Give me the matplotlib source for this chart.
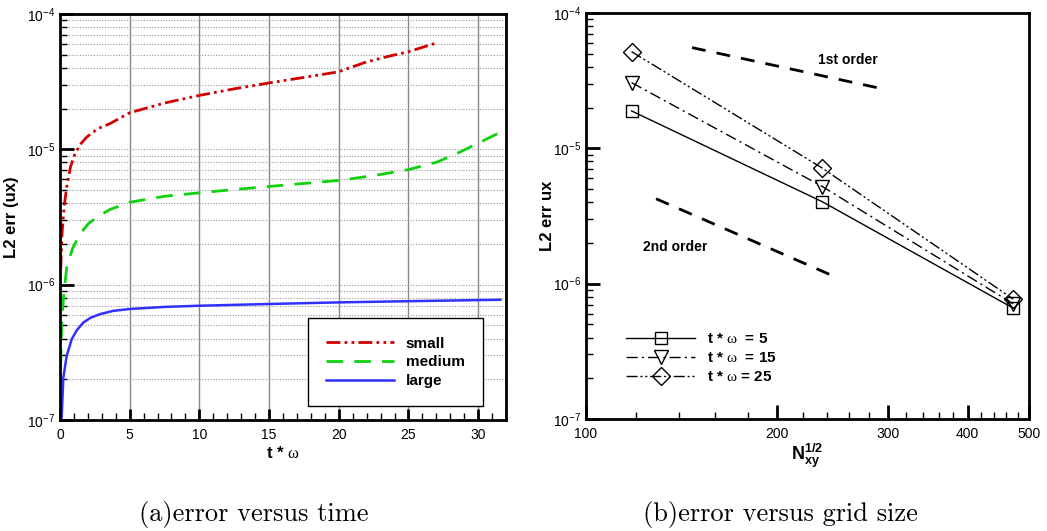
import matplotlib
matplotlib.use("Agg")
import matplotlib.pyplot as plt
from matplotlib.ticker import LogLocator, MultipleLocator, FixedLocator, NullFormatter, FixedFormatter
import numpy as np

plt.rcParams['font.family'] = ['Liberation Sans', 'DejaVu Sans']
plt.rcParams['mathtext.fontset'] = 'custom'
plt.rcParams['mathtext.rm'] = 'Liberation Sans'
plt.rcParams['mathtext.bf'] = 'Liberation Sans:bold'
plt.rcParams['mathtext.sf'] = 'Liberation Serif'

# (a) error vs time
t_small = [0.05, 0.15, 0.3, 0.48, 0.75, 1.08, 1.5, 1.91, 2.7, 3.59, 4.98, 7.5, 10.05, 12.5, 15.03, 17.5, 19.98, 22.0, 23.5, 25.0, 27.04]
err_small = [1.3e-6, 2.4e-6, 3.8e-6, 5.26e-6, 7.4e-6, 9.3e-6, 1.1e-5, 1.23e-5, 1.42e-5, 1.55e-5, 1.86e-5, 2.2e-5, 2.51e-5, 2.8e-5, 3.1e-5, 3.4e-5, 3.74e-5, 4.43e-5, 4.85e-5, 5.26e-5, 6.13e-5]
t_medium = [0.05, 0.12, 0.25, 0.48, 0.9, 1.44, 2.0, 2.63, 3.6, 5.03, 7.5, 10.05, 12.5, 15.03, 17.5, 20.0, 22.5, 25.0, 27.04, 28.7, 30.3, 32.0]
err_medium = [2.5e-7, 5e-7, 8e-7, 1.34e-6, 1.85e-6, 2.37e-6, 2.8e-6, 3.15e-6, 3.6e-6, 4.07e-6, 4.5e-6, 4.78e-6, 5.05e-6, 5.32e-6, 5.6e-6, 5.89e-6, 6.4e-6, 7.08e-6, 8.05e-6, 9.55e-6, 1.15e-5, 1.4e-5]
t_large = [0.08, 0.12, 0.24, 0.48, 0.84, 1.2, 1.67, 2.2, 2.87, 3.8, 4.98, 7.5, 10.0, 15.0, 20.0, 25.0, 31.6]
err_large = [1.0e-7, 1.05e-7, 2.06e-7, 2.98e-7, 3.95e-7, 4.6e-7, 5.25e-7, 5.7e-7, 6.06e-7, 6.4e-7, 6.61e-7, 6.85e-7, 6.99e-7, 7.2e-7, 7.4e-7, 7.55e-7, 7.74e-7]

# (b) error vs grid size
n_grid = [118, 236, 472]
err_t5 = [1.89e-5, 4.03e-6, 6.6e-7]
err_t15 = [3.06e-5, 5.22e-6, 7.1e-7]
err_t25 = [5.18e-5, 7.14e-6, 7.7e-7]
first_x = [147, 294]
first_y = [5.55e-5, 2.75e-5]
second_x = [129, 251]
second_y = [4.24e-6, 1.09e-6]
n_ticks = [100, 200, 300, 400, 500]
n_minor = [120, 140, 160, 180, 220, 240, 260, 280, 320, 340, 360, 380, 420, 440, 460, 480]

fig = plt.figure(figsize=(10.47, 5.31), dpi=100)

# ---------- left panel ----------
ax1 = fig.add_axes([0.0573, 0.209, 0.426, 0.7646])
ax1.plot(t_small, err_small, color='#d00000', lw=2, dashes=[5, 1.5, 1, 1.5, 1, 1.5], label='small')
ax1.plot(t_medium, err_medium, color='#10d010', lw=2, dashes=[6, 4], label='medium')
ax1.plot(t_large, err_large, color='#3030ff', lw=1.8, label='large')
ax1.set_yscale('log')
ax1.set_xlim(0, 32)
ax1.set_ylim(1e-7, 1e-4)
ax1.xaxis.set_major_locator(MultipleLocator(5))
ax1.xaxis.set_minor_locator(MultipleLocator(1))
ax1.yaxis.set_minor_locator(LogLocator(base=10, subs=np.arange(2, 10)))
ax1.yaxis.set_minor_formatter(NullFormatter())
ax1.grid(True, which='major', axis='x', color='#888888', lw=1)
ax1.grid(True, which='both', axis='y', color='#999999', lw=0.8, linestyle=(0, (1, 1.5)))
ax1.tick_params(which='major', direction='in', length=10, width=2, labelsize=10)
ax1.tick_params(which='minor', direction='in', length=5, width=1)
ax1.tick_params(axis='x', which='major', length=8, pad=6)
for s in ax1.spines.values():
    s.set_linewidth(2)
ax1.set_xlabel('t * $\\mathsf{\\omega}$', fontsize=12, fontweight='bold', labelpad=2)
ax1.set_ylabel('L2 err (ux)', fontsize=12, fontweight='bold')
ax1.yaxis.set_label_coords(-0.092, 0.5)
leg = ax1.legend(loc='lower right', bbox_to_anchor=(0.966, 0.015), prop={'weight': 'bold', 'size': 11},
                 fancybox=False, framealpha=1, edgecolor='black', handlelength=4.4, borderpad=1.2, labelspacing=0.3)
leg.get_frame().set_linewidth(1)

# ---------- right panel ----------
ax2 = fig.add_axes([0.5597, 0.2109, 0.4231, 0.7646])
ax2.plot(n_grid, err_t5, color='black', lw=1, marker='s', ms=9, mfc='none', mec='black', label='t * $\\mathsf{\\omega}$  = 5')
ax2.plot(n_grid, err_t15, color='black', lw=1, dashes=[8, 3, 1.5, 3], marker='v', ms=10, mfc='none', mec='black', label='t * $\\mathsf{\\omega}$  = 15')
ax2.plot(n_grid, err_t25, color='black', lw=1, dashes=[8, 2, 1.5, 2, 1.5, 2], marker='D', ms=9, mfc='none', mec='black', label='t * $\\mathsf{\\omega}$ = 25')
ax2.plot(first_x, first_y, color='black', lw=2, dashes=[5, 4])
ax2.plot(second_x, second_y, color='black', lw=2, dashes=[5, 4])
ax2.text(232, 4.5e-5, '1st order', fontsize=10, fontweight='bold', va='center')
ax2.text(123, 1.87e-6, '2nd order', fontsize=10, fontweight='bold', va='center')
ax2.set_xscale('log')
ax2.set_yscale('log')
ax2.set_xlim(100, 500)
ax2.set_ylim(1e-7, 1e-4)
ax2.xaxis.set_major_locator(FixedLocator(n_ticks))
ax2.xaxis.set_major_formatter(FixedFormatter([str(v) for v in n_ticks]))
ax2.xaxis.set_minor_locator(FixedLocator(n_minor))
ax2.xaxis.set_minor_formatter(NullFormatter())
ax2.yaxis.set_minor_locator(LogLocator(base=10, subs=np.arange(2, 10)))
ax2.yaxis.set_minor_formatter(NullFormatter())
ax2.tick_params(which='major', direction='in', length=10, width=2, labelsize=10)
ax2.tick_params(which='minor', direction='in', length=5, width=1)
ax2.tick_params(axis='x', which='major', pad=6)
for s in ax2.spines.values():
    s.set_linewidth(2)
ax2.set_xlabel('N$_{\\mathbf{xy}}^{\\mathbf{1/2}}$', fontsize=13, fontweight='bold', labelpad=0)
ax2.set_ylabel('L2 err ux', fontsize=12, fontweight='bold')
ax2.yaxis.set_label_coords(-0.07, 0.5)
leg2 = ax2.legend(loc='lower left', bbox_to_anchor=(0.06, 0.052), frameon=False, prop={'weight': 'bold', 'size': 11},
                  handlelength=4.5, labelspacing=0.32, handletextpad=0.8)

fig.text(0.242, 0.018, '(a)error versus time', fontsize=19, family='cmr10', ha='center')
fig.text(0.745, 0.018, '(b)error versus grid size', fontsize=19, family='cmr10', ha='center')

fig.savefig('out.png', dpi=100)
